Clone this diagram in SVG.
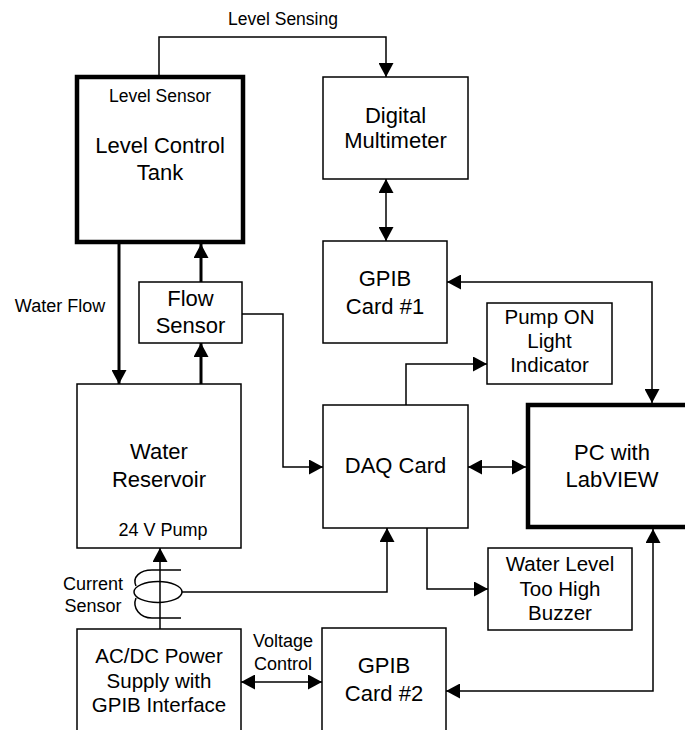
<svg xmlns="http://www.w3.org/2000/svg" width="685" height="730" viewBox="0 0 685 730">
<style>
.box{fill:#fff;stroke:#000;stroke-width:1.5}
.thick{fill:#fff;stroke:#000;stroke-width:4.5}
.ln{fill:none;stroke:#000;stroke-width:1.5}
.fl{fill:none;stroke:#000;stroke-width:3}
text{font-family:"Liberation Sans",Arial,sans-serif;fill:#000;text-anchor:middle}
.b{font-size:22px}
.m{font-size:20.5px}
.s{font-size:18px}
.xs{font-size:17.5px}
</style>
<defs>
<marker id="a" markerUnits="userSpaceOnUse" markerWidth="14" markerHeight="15" refX="14" refY="7.5" orient="auto-start-reverse" viewBox="0 0 14 15">
<path d="M0,0 L14,7.5 L0,15 z" fill="#000"/>
</marker>
</defs>
<g id="connectors">
<path class="ln" d="M159,77 V37 H386 V77" marker-end="url(#a)"/>
<path class="ln" d="M386,179 V241" marker-start="url(#a)" marker-end="url(#a)"/>
<path class="ln" d="M447,282 H652 V403" marker-start="url(#a)" marker-end="url(#a)"/>
<path class="fl" d="M119,244 V384" marker-end="url(#a)"/>
<path class="fl" d="M201,282 V244" marker-end="url(#a)"/>
<path class="fl" d="M201,384 V343" marker-end="url(#a)"/>
<path class="ln" d="M242,314 H283 V467 H323" marker-end="url(#a)"/>
<path class="ln" d="M406,405 V364 H487" marker-end="url(#a)"/>
<path class="ln" d="M468,467 H526" marker-start="url(#a)" marker-end="url(#a)"/>
<path class="ln" d="M427,528 V589 H488" marker-end="url(#a)"/>
<path class="ln" d="M446,691 H653 V529" marker-start="url(#a)" marker-end="url(#a)"/>
<path class="ln" d="M241,682 H322" marker-start="url(#a)" marker-end="url(#a)"/>
<path class="ln" d="M160,629 V548" marker-end="url(#a)"/>
<path class="ln" d="M182,592 H387 V528" marker-end="url(#a)"/>
</g>
<g id="current-sensor">
<ellipse class="ln" cx="158" cy="592" rx="24" ry="10.5"/>
<path class="ln" d="M181,570 H152 C140,570 132,577 136,586"/>
<path class="ln" d="M136,598 C132,608 140,618 152,618 H181"/>
<text class="s" x="93" y="590">Current</text>
<text class="s" x="93" y="612">Sensor</text>
</g>
<g id="level-control-tank">
<rect class="thick" x="77" y="77" width="166" height="165"/>
<text class="xs" x="160" y="102">Level Sensor</text>
<text class="b" x="160" y="153">Level Control</text>
<text class="b" x="160" y="180">Tank</text>
</g>
<g id="label-level-sensing"><text class="xs" x="283" y="25">Level Sensing</text></g>
<g id="label-water-flow"><text class="s" x="60" y="312">Water Flow</text></g>
<g id="label-voltage-control">
<text class="s" x="283" y="647">Voltage</text>
<text class="s" x="283" y="670">Control</text>
</g>
<g id="digital-multimeter">
<rect class="box" x="323" y="77" width="145" height="102"/>
<text class="b" x="395.5" y="123">Digital</text>
<text class="b" x="395.5" y="148">Multimeter</text>
</g>
<g id="gpib-card-1">
<rect class="box" x="323" y="241" width="124" height="102"/>
<text class="b" x="385" y="286">GPIB</text>
<text class="b" x="385" y="314">Card #1</text>
</g>
<g id="flow-sensor">
<rect class="box" x="139" y="282" width="103" height="61"/>
<text class="b" x="190.5" y="306">Flow</text>
<text class="b" x="190.5" y="333">Sensor</text>
</g>
<g id="pump-on-light">
<rect class="box" x="487" y="303" width="125" height="81"/>
<text class="m" x="549.5" y="324">Pump ON</text>
<text class="m" x="549.5" y="348">Light</text>
<text class="m" x="549.5" y="372">Indicator</text>
</g>
<g id="daq-card">
<rect class="box" x="323" y="405" width="145" height="123"/>
<text class="b" x="395.5" y="473">DAQ Card</text>
</g>
<g id="pc-labview">
<rect class="thick" x="528" y="405" width="172" height="122"/>
<text class="b" x="612" y="460">PC with</text>
<text class="b" x="612" y="487">LabVIEW</text>
</g>
<g id="water-reservoir">
<rect class="box" x="77" y="384" width="164" height="164"/>
<text class="b" x="159" y="459">Water</text>
<text class="b" x="159" y="487">Reservoir</text>
<text class="s" x="163" y="536">24 V Pump</text>
</g>
<g id="water-level-buzzer">
<rect class="box" x="488" y="548" width="144" height="82"/>
<text class="m" x="560" y="571">Water Level</text>
<text class="m" x="560" y="596">Too High</text>
<text class="m" x="560" y="620">Buzzer</text>
</g>
<g id="power-supply">
<rect class="box" x="77" y="629" width="164" height="120"/>
<text class="m" x="159" y="663">AC/DC Power</text>
<text class="m" x="159" y="688">Supply with</text>
<text class="m" x="159" y="712">GPIB Interface</text>
</g>
<g id="gpib-card-2">
<rect class="box" x="322" y="628" width="124" height="120"/>
<text class="b" x="384" y="673">GPIB</text>
<text class="b" x="384" y="701">Card #2</text>
</g>
</svg>
